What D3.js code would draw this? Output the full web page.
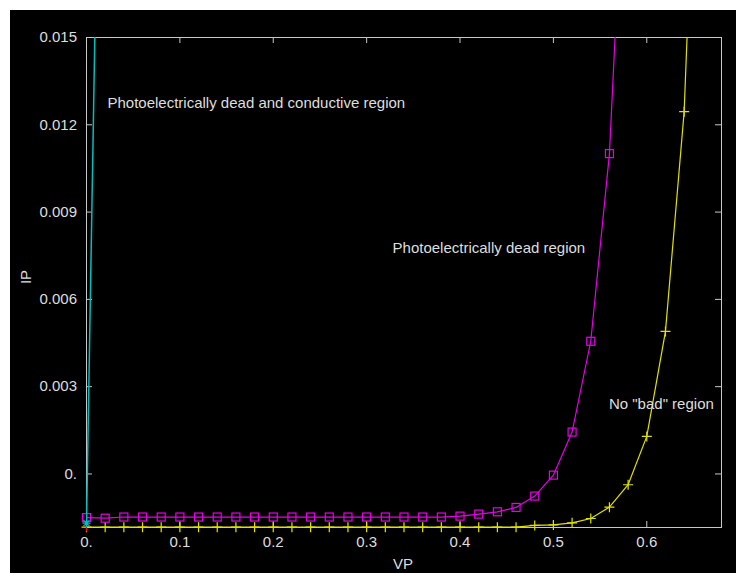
<!DOCTYPE html>
<html>
<head>
<meta charset="utf-8">
<script src="https://cdn.jsdelivr.net/npm/d3@7"></script>
<style>
body { margin: 0; background: #fff; }
text { font-family: "Liberation Sans", Arial, sans-serif; }
</style>
</head>
<body>
<div id="chart"></div>
<script>
// Series (VP in volts, IP in amps)
var vpMagenta = [0, 0.02, 0.04, 0.06, 0.08, 0.1, 0.12, 0.14, 0.16, 0.18, 0.2, 0.22, 0.24, 0.26, 0.28,
    0.3, 0.32, 0.34, 0.36, 0.38, 0.4, 0.42, 0.44, 0.46, 0.48, 0.5, 0.52, 0.54, 0.56, 0.58];
var ipMagenta = [-0.0015, -0.00152, -0.00148, -0.00148, -0.00148, -0.00148, -0.00148, -0.00148, -0.00148, -0.00148,
    -0.00148, -0.00148, -0.00148, -0.00148, -0.00148, -0.00148, -0.00148, -0.00148, -0.00148, -0.00148,
    -0.00145, -0.00138, -0.0013, -0.00115, -0.00076, -0.00004, 0.00144, 0.00456, 0.01101, 0.0243];

var vpYellow = [0, 0.02, 0.04, 0.06, 0.08, 0.1, 0.12, 0.14, 0.16, 0.18, 0.2, 0.22, 0.24, 0.26, 0.28,
    0.3, 0.32, 0.34, 0.36, 0.38, 0.4, 0.42, 0.44, 0.46, 0.48, 0.5, 0.52, 0.54, 0.56, 0.58, 0.6, 0.62, 0.64, 0.66];
var ipYellow = [-0.00183, -0.00183, -0.00183, -0.00183, -0.00183, -0.00183, -0.00183, -0.00183, -0.00183, -0.00183,
    -0.00183, -0.00183, -0.00183, -0.00183, -0.00183, -0.00183, -0.00183, -0.00183, -0.00183, -0.00183,
    -0.00183, -0.00183, -0.00183, -0.00183, -0.00177, -0.00175, -0.00168, -0.00153, -0.00114, -0.00037,
    0.00129, 0.0049, 0.01245, 0.0289];

var vpCyan = [0, 0.02];
var ipCyan = [-0.00169, 0.0358];

var vpRed = [0];
var ipRed = [-0.00184];

var xTicks = [0, 0.1, 0.2, 0.3, 0.4, 0.5, 0.6];
var xTickLabels = ["0.", "0.1", "0.2", "0.3", "0.4", "0.5", "0.6"];
var yTicks = [0, 0.003, 0.006, 0.009, 0.012, 0.015];
var yTickLabels = ["0.", "0.003", "0.006", "0.009", "0.012", "0.015"];

// text notes placed in data coordinates
var notes = [
    { text: "Photoelectrically dead and conductive region", vp: 0.023, ip: 0.01256 },
    { text: "Photoelectrically dead region", vp: 0.3283, ip: 0.00758 },
    { text: "No \"bad\" region", vp: 0.56, ip: 0.00222 }
];

var W = 736, H = 573;
var margin = { top: 37, right: 15, bottom: 46, left: 86 },
    width = W - margin.left - margin.right,
    height = H - margin.top - margin.bottom;

var axisColor = "#c8c8c8", textColor = "#dedede";

var root = d3.select("#chart").append("svg")
    .attr("width", W)
    .attr("height", H);

// black panel with white strip on top and left
root.append("rect").attr("x", 10).attr("y", 10).attr("width", W - 10).attr("height", H - 10).attr("fill", "#000");

var svg = root.append("g")
    .attr("transform", "translate(" + margin.left + "," + margin.top + ")");

var x = d3.scaleLinear().domain([0, 0.68]).range([0, width]);
var y = d3.scaleLinear().domain([-0.00184, 0.015]).range([height, 0]);

// frame
svg.append("rect")
    .attr("x", 0.5).attr("y", 0.5)
    .attr("width", width).attr("height", height)
    .attr("fill", "none").attr("stroke", axisColor);

function styleAxis(g) {
    g.select(".domain").remove();
    g.selectAll("line").attr("stroke", axisColor);
    g.selectAll("text").attr("fill", textColor).style("font-size", "15px").style("font-family", "'Liberation Sans', Arial, sans-serif");
}

svg.append("g")
    .attr("transform", "translate(0," + height + ")")
    .call(d3.axisBottom(x).tickValues(xTicks).tickFormat(function (d, i) { return xTickLabels[i]; })
        .tickSizeInner(-6).tickSizeOuter(0).tickPadding(9))
    .call(styleAxis);

svg.append("g")
    .call(d3.axisTop(x).tickValues(xTicks).tickFormat("").tickSizeInner(-6).tickSizeOuter(0))
    .call(styleAxis);

svg.append("g")
    .call(d3.axisLeft(y).tickValues(yTicks).tickFormat(function (d, i) { return yTickLabels[i]; })
        .tickSizeInner(-6).tickSizeOuter(0).tickPadding(9))
    .call(styleAxis);

svg.append("g")
    .attr("transform", "translate(" + width + ",0)")
    .call(d3.axisRight(y).tickValues(yTicks).tickFormat("").tickSizeInner(-6).tickSizeOuter(0))
    .call(styleAxis);

// axis titles
svg.append("text")
    .attr("x", 403 - margin.left)
    .attr("y", height + 42)
    .attr("text-anchor", "middle")
    .attr("fill", textColor)
    .style("font-size", "15px")
    .text("VP");

svg.append("text")
    .attr("transform", "translate(" + (31 - margin.left) + "," + (277 - margin.top) + ") rotate(-90)")
    .attr("text-anchor", "middle")
    .attr("fill", textColor)
    .style("font-size", "15px")
    .text("IP");

// clip for the curves
svg.append("clipPath").attr("id", "plot-clip")
    .append("rect").attr("x", 0).attr("y", 0).attr("width", width + 1).attr("height", height + 1);

var line = d3.line()
    .x(function (d) { return x(d.vp) + 0.5; })
    .y(function (d) { return y(d.ip) + 0.5; });

function zip(vs, is) {
    return vs.map(function (v, i) { return { vp: v, ip: is[i] }; });
}

function inView(d) { return d.ip <= y.domain()[1]; }

var yellowData = zip(vpYellow, ipYellow),
    magentaData = zip(vpMagenta, ipMagenta),
    cyanData = zip(vpCyan, ipCyan),
    redData = zip(vpRed, ipRed);

// yellow: plus markers
var yellow = "#e2e200";
svg.append("path").datum(yellowData)
    .attr("clip-path", "url(#plot-clip)")
    .attr("d", line).attr("fill", "none").attr("stroke", yellow).attr("stroke-width", 1.2);
svg.selectAll(".plus").data(yellowData.filter(inView)).enter().append("path")
    .attr("class", "plus")
    .attr("transform", function (d) { return "translate(" + (x(d.vp) + 0.5) + "," + (y(d.ip) + 0.5) + ")"; })
    .attr("d", "M-5,0H5M0,-5V5")
    .attr("stroke", yellow).attr("stroke-width", 1.2).attr("fill", "none");

// magenta: open squares
var magenta = "#e600e6";
svg.append("path").datum(magentaData)
    .attr("clip-path", "url(#plot-clip)")
    .attr("d", line).attr("fill", "none").attr("stroke", magenta).attr("stroke-width", 1.2);
svg.selectAll(".square").data(magentaData.filter(inView)).enter().append("rect")
    .attr("class", "square")
    .attr("x", function (d) { return x(d.vp) + 0.5 - 4; })
    .attr("y", function (d) { return y(d.ip) + 0.5 - 4; })
    .attr("width", 8).attr("height", 8)
    .attr("fill", "none").attr("stroke", magenta).attr("stroke-width", 1.2);

// red: single short mark at the corner
svg.selectAll(".redmark").data(redData).enter().append("path")
    .attr("class", "redmark")
    .attr("transform", function (d) { return "translate(" + (x(d.vp) + 0.5) + "," + (y(d.ip) + 0.5) + ")"; })
    .attr("d", "M0,-4V4")
    .attr("stroke", "#ff0000").attr("stroke-width", 1.2);

// cyan: asterisk markers
var cyan = "#00bebe";
svg.append("path").datum(cyanData)
    .attr("clip-path", "url(#plot-clip)")
    .attr("d", line).attr("fill", "none").attr("stroke", cyan).attr("stroke-width", 1.5);
svg.selectAll(".star").data(cyanData.filter(inView)).enter().append("path")
    .attr("class", "star")
    .attr("transform", function (d) { return "translate(" + (x(d.vp) + 0.5) + "," + (y(d.ip) + 0.5) + ")"; })
    .attr("d", "M-4,0H4M0,-4V4M-3,-3L3,3M-3,3L3,-3")
    .attr("stroke", cyan).attr("stroke-width", 1.2).attr("fill", "none");

// region notes
svg.selectAll(".note").data(notes).enter().append("text")
    .attr("class", "note")
    .attr("x", function (d) { return x(d.vp); })
    .attr("y", function (d) { return y(d.ip); })
    .attr("fill", textColor)
    .style("font-size", "15px")
    .text(function (d) { return d.text; });
</script>
</body>
</html>
